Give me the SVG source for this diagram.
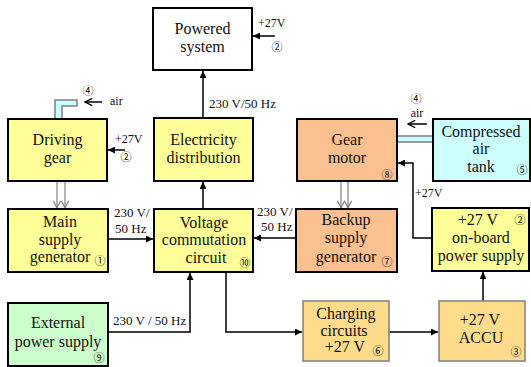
<svg xmlns="http://www.w3.org/2000/svg" width="531" height="367" viewBox="0 0 531 367">
<style>
text{font-family:'Liberation Serif','DejaVu Serif','Noto Serif',serif}
.box{stroke:#000;stroke-width:2}
.soft{stroke:#7f7f7f;stroke-width:1.5}
.t{font-size:16px;text-anchor:middle;fill:#111}
.s{font-size:13px;fill:#111}
text.c{font-family:'Noto Sans CJK JP','Noto Sans CJK SC',sans-serif;font-size:11px;text-anchor:middle;fill:#111}
.ln{stroke:#000;stroke-width:1.5;fill:none}
.dbl{stroke:#808080;stroke-width:1.2;fill:none}
.pipe{fill:#ccffff;stroke:#7f7f7f;stroke-width:1.5}
</style>
<defs>
<marker id="arr" viewBox="0 0 10 10" refX="10" refY="5" markerWidth="7" markerHeight="7" markerUnits="userSpaceOnUse" orient="auto">
<path d="M0,0 L10,5 L0,10 Z" fill="#000"/>
</marker>
<marker id="open" viewBox="0 0 10 10" refX="9" refY="5" markerWidth="9" markerHeight="9" markerUnits="userSpaceOnUse" orient="auto">
<path d="M1,1 L9,5 L1,9" fill="none" stroke="#000" stroke-width="1.4"/>
</marker>
<marker id="gopen" viewBox="0 0 10 10" refX="9" refY="5" markerWidth="9" markerHeight="9" markerUnits="userSpaceOnUse" orient="auto">
<path d="M1,1 L9,5 L1,9" fill="none" stroke="#808080" stroke-width="1.3"/>
</marker>
</defs>

<g id="connectors">
<path class="pipe" d="M55,119 L55,100 L77,100 L77,106 L62,106 L62,119 Z"/>
<rect class="pipe" x="397" y="136" width="36" height="6"/>
<line class="dbl" x1="57" y1="181" x2="57" y2="208" marker-end="url(#gopen)"/>
<line class="dbl" x1="65" y1="181" x2="65" y2="208" marker-end="url(#gopen)"/>
<line class="dbl" x1="341" y1="181" x2="341" y2="208" marker-end="url(#gopen)"/>
<line class="dbl" x1="348" y1="181" x2="348" y2="208" marker-end="url(#gopen)"/>
<line class="ln" x1="102" y1="102" x2="85" y2="102" marker-end="url(#open)"/>
<line class="ln" x1="427" y1="124" x2="408" y2="124" marker-end="url(#open)"/>
<line class="ln" x1="275" y1="36" x2="253" y2="36" marker-end="url(#arr)"/>
<line class="ln" x1="125" y1="150" x2="108" y2="150" marker-end="url(#arr)"/>
<polyline class="ln" points="432,238 413,238 413,163 398,163" marker-end="url(#arr)"/>
<line class="ln" x1="203" y1="118" x2="203" y2="71" marker-end="url(#arr)"/>
<line class="ln" x1="203" y1="209" x2="203" y2="182" marker-end="url(#arr)"/>
<line class="ln" x1="108" y1="239" x2="153" y2="239" marker-end="url(#arr)"/>
<line class="ln" x1="296" y1="238" x2="254" y2="238" marker-end="url(#arr)"/>
<polyline class="ln" points="108,332 190,332 190,273" marker-end="url(#arr)"/>
<polyline class="ln" points="226,272 226,332 302,332" marker-end="url(#arr)"/>
<line class="ln" x1="389" y1="332" x2="438" y2="332" marker-end="url(#arr)"/>
<line class="ln" x1="483" y1="301" x2="483" y2="272" marker-end="url(#arr)"/>
<text class="s" x="209" y="108">230 V/50 Hz</text>
<text class="s" x="114" y="217">230 V/</text>
<text class="s" x="115" y="233">50 Hz</text>
<text class="s" x="257" y="216">230 V/</text>
<text class="s" x="261" y="231">50 Hz</text>
<text class="s" x="113" y="325">230 V / 50 Hz</text>
<text class="s" x="258" y="27" style="font-size:12px">+27V</text>
<text class="c" x="277" y="51">②</text>
<text class="s" x="115" y="143" style="font-size:12px">+27V</text>
<text class="c" x="126" y="161">②</text>
<text class="c" x="88" y="95">④</text>
<text class="s" x="110" y="105" style="font-size:12px">air</text>
<text class="c" x="416" y="103">④</text>
<text class="s" x="417" y="117" style="font-size:12px;text-anchor:middle">air</text>
<text class="s" x="415" y="197" style="font-size:12px">+27V</text>
</g>

<g id="powered-system">
<rect class="box" x="153" y="8" width="99" height="62" fill="#fff"/>
<text class="t" x="202.5" y="34">Powered</text>
<text class="t" x="202.5" y="52">system</text>
</g>

<g id="driving-gear">
<rect class="box" x="8" y="119" width="99" height="62" fill="#ffff99"/>
<text class="t" x="57.5" y="145">Driving</text>
<text class="t" x="57.5" y="163">gear</text>
</g>

<g id="electricity-distribution">
<rect class="box" x="154" y="118" width="99" height="63" fill="#ffff99"/>
<text class="t" x="203.5" y="145">Electricity</text>
<text class="t" x="203.5" y="163">distribution</text>
</g>

<g id="gear-motor">
<rect class="box" x="297" y="119" width="100" height="62" fill="#fac090"/>
<text class="t" x="347" y="145">Gear</text>
<text class="t" x="347" y="163">motor</text>
<text class="c" x="387" y="179">⑧</text>
</g>

<g id="compressed-air-tank">
<rect class="box" x="433" y="119" width="97" height="62" fill="#ccffff"/>
<text class="t" x="481" y="137">Compressed</text>
<text class="t" x="481" y="154">air</text>
<text class="t" x="481" y="172">tank</text>
<text class="c" x="522" y="174">⑤</text>
</g>

<g id="main-supply-generator">
<rect class="box" x="8" y="209" width="100" height="63" fill="#ffff99"/>
<text class="t" x="60" y="227">Main</text>
<text class="t" x="60" y="245">supply</text>
<text class="t" x="60" y="262">generator</text>
<text class="c" x="100" y="265">①</text>
</g>

<g id="voltage-commutation-circuit">
<rect class="box" x="154" y="209" width="99" height="63" fill="#ffff99"/>
<text class="t" x="204" y="228">Voltage</text>
<text class="t" x="204" y="245">commutation</text>
<text class="t" x="206" y="263">circuit</text>
<text class="c" x="245" y="267">⑩</text>
</g>

<g id="backup-supply-generator">
<rect class="box" x="296" y="209" width="101" height="63" fill="#fac090"/>
<text class="t" x="346" y="225">Backup</text>
<text class="t" x="346" y="243">supply</text>
<text class="t" x="346" y="262">generator</text>
<text class="c" x="387" y="266">⑦</text>
</g>

<g id="on-board-power-supply">
<rect class="box" x="432" y="208" width="97" height="63" fill="#ffff99"/>
<text class="t" x="478" y="225">+27 V</text>
<text class="t" x="481" y="243">on-board</text>
<text class="t" x="481" y="261">power supply</text>
<text class="c" x="520" y="224">②</text>
</g>

<g id="external-power-supply">
<rect class="box" x="8" y="303" width="100" height="63" fill="#ccffcc"/>
<text class="t" x="58" y="328">External</text>
<text class="t" x="58" y="347">power supply</text>
<text class="c" x="99" y="362">⑨</text>
</g>

<g id="charging-circuits">
<rect class="soft" x="303" y="301" width="86" height="60" fill="#fedc8c"/>
<text class="t" x="346" y="319">Charging</text>
<text class="t" x="344" y="336">circuits</text>
<text class="t" x="345" y="352">+27 V</text>
<text class="c" x="378" y="355">⑥</text>
</g>

<g id="accu">
<rect class="soft" x="439" y="301" width="86" height="60" fill="#fedc8c"/>
<text class="t" x="480" y="325">+27 V</text>
<text class="t" x="481" y="343">ACCU</text>
<text class="c" x="516" y="356">③</text>
</g>
</svg>
